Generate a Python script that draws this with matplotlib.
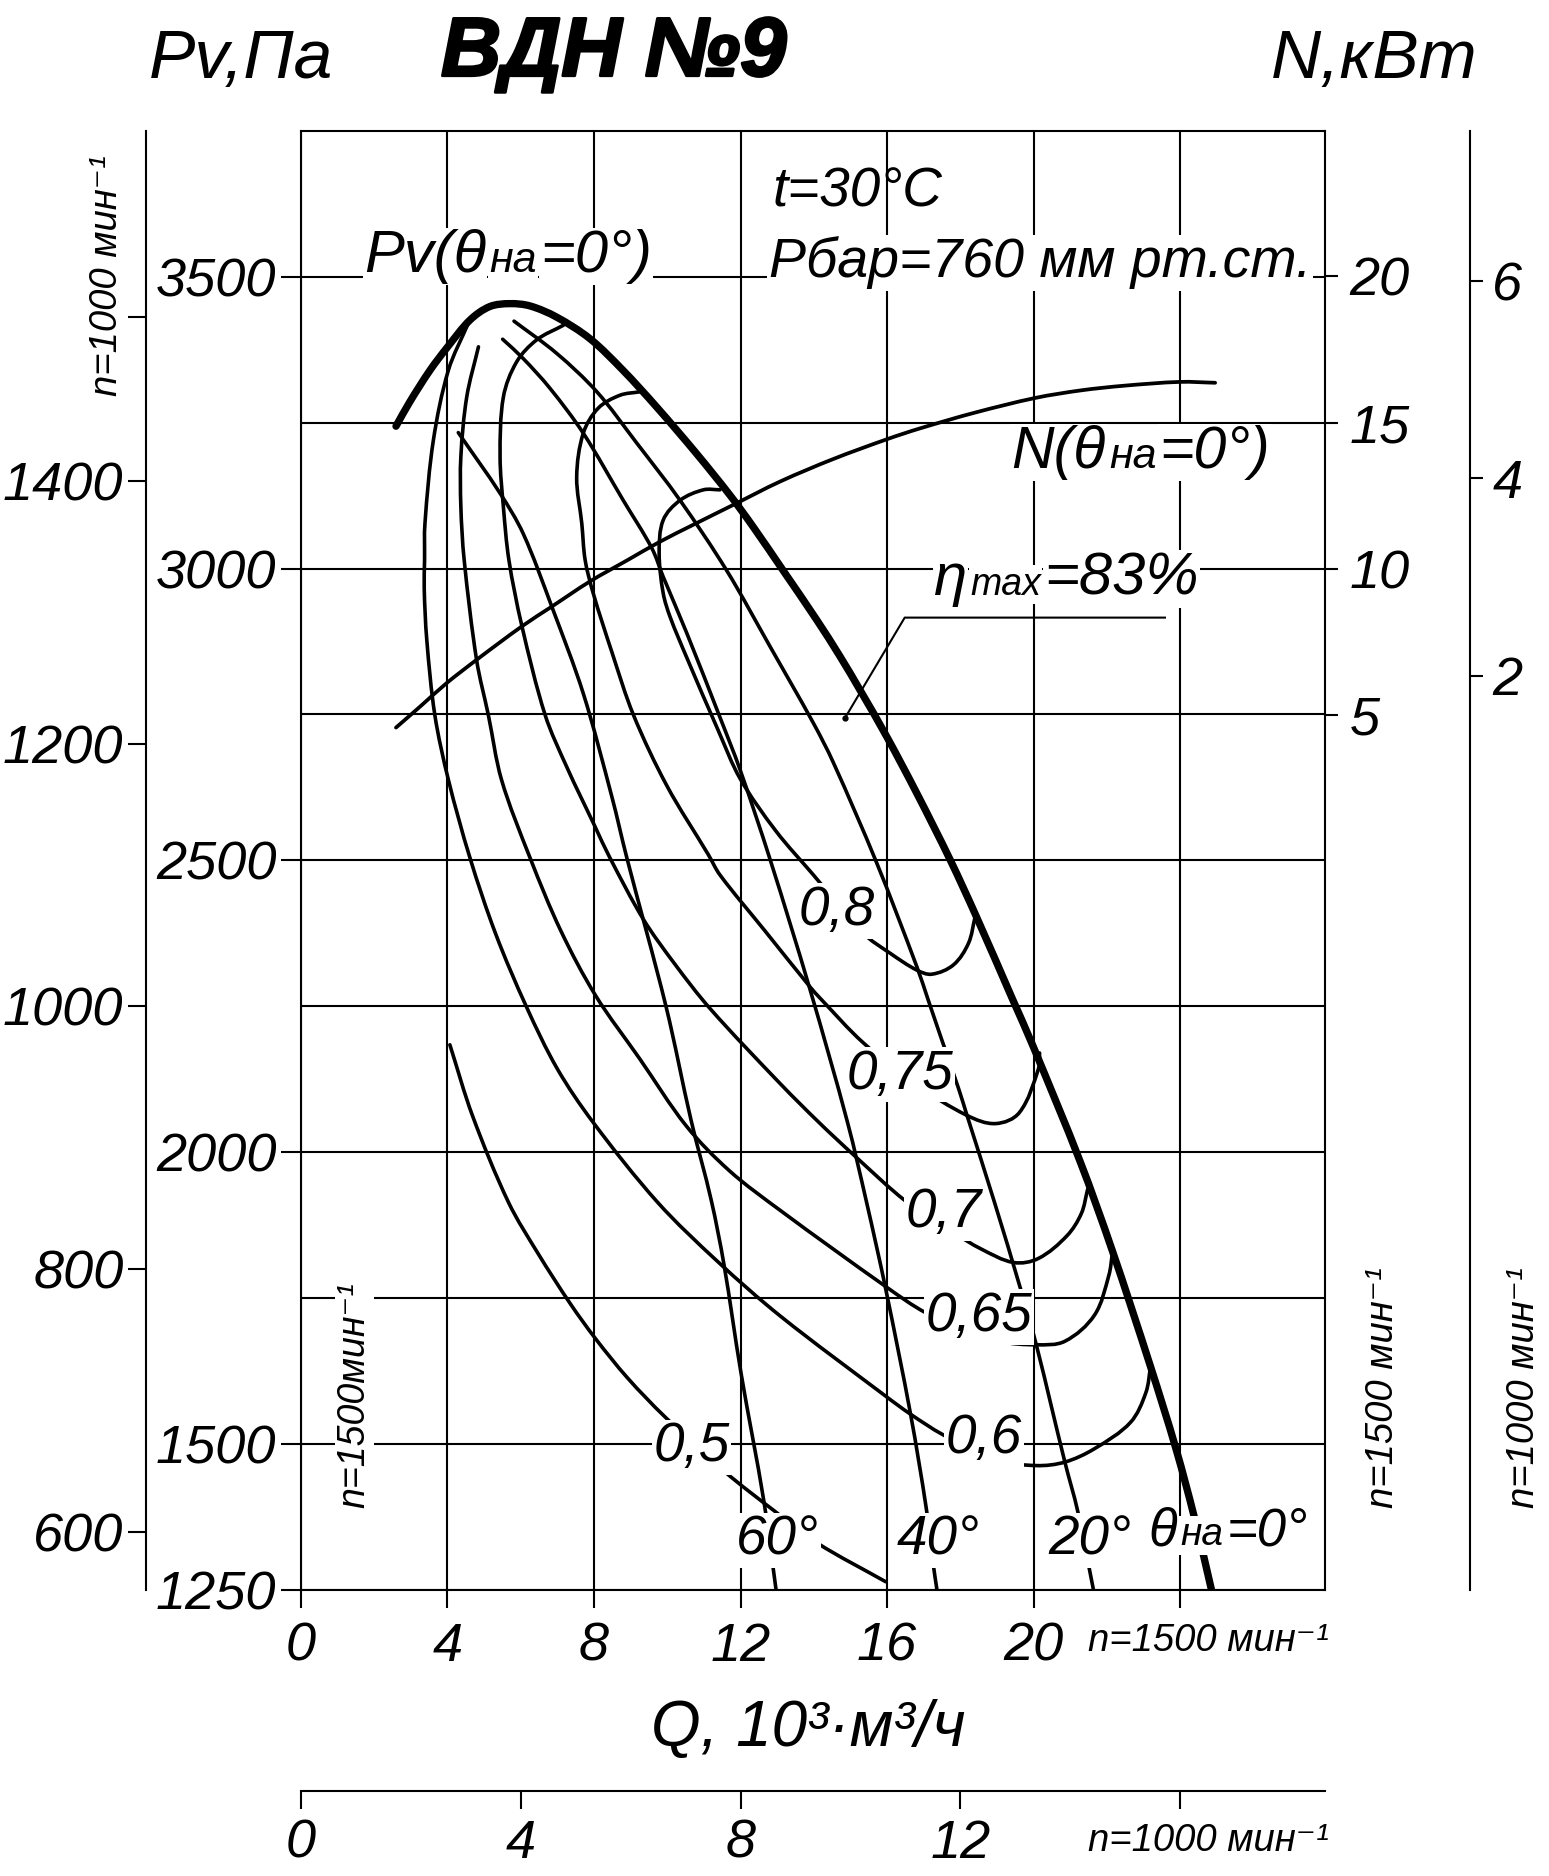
import matplotlib
matplotlib.use("Agg")
import matplotlib.pyplot as plt
import matplotlib.patheffects as pe
import numpy as np
from matplotlib.patches import PathPatch
from matplotlib.path import Path

plt.rcParams['font.family'] = ['Liberation Sans', 'DejaVu Sans']
plt.rcParams['font.style'] = 'italic'

# pressure tick values
pv_major = [1250, 1500, 2000, 2500, 3000, 3500]
pv_minor = [1750, 2250, 2750, 3250]
q_ticks = [0, 4, 8, 12, 16, 20, 24]
q_labels = ['0', '4', '8', '12', '16', '20', '']
q1000_ticks = [0, 4, 8, 12, 16]
q1000_labels = ['0', '4', '8', '12', '']
pv1000_ticks = [600, 800, 1000, 1200, 1400, 1525]
pv1000_labels = ['600', '800', '1000', '1200', '1400', '']
n_ticks = [5, 10, 15, 20]
n1000_ticks = [2, 4, 6]

# envelope, theta = 0
env_q = [2.60, 2.98, 3.53, 4.01, 4.62, 5.16, 5.71, 6.26, 6.98, 7.89, 8.79, 9.71, 10.80, 11.71, 12.34, 13.16, 14.08,
         14.72, 15.26, 15.99, 16.81, 17.72, 18.44, 19.43, 19.98, 21.26, 22.14, 23.18, 23.88, 24.38, 24.85]
env_pv = [3244, 3286, 3340, 3380, 3426, 3449, 3454, 3450, 3431, 3394, 3340, 3277, 3197, 3126, 3072, 2997, 2912,
          2849, 2792, 2712, 2615, 2501, 2403, 2261, 2182, 1985, 1832, 1634, 1492, 1375, 1250]

# power curve
power_q = [2.60, 3.26, 3.98, 4.80, 6.03, 6.85, 7.89, 8.93, 9.80, 10.71, 11.80, 13.08, 14.53, 16.0, 16.90, 18.4, 20.04, 21.29, 22.47, 23.99, 24.95]
power_n = [4.56, 5.28, 6.08, 6.88, 8.02, 8.70, 9.56, 10.30, 10.92, 11.50, 12.18, 12.98, 13.75, 14.43, 14.80, 15.34, 15.84, 16.10, 16.26, 16.39, 16.36]

# guide vane curves
t20_q = [5.82, 6.98, 8.08, 9.17, 10.35, 11.62, 12.81, 13.99, 14.53, 15.72, 16.81, 17.12, 17.5, 17.95, 18.18, 18.93, 19.64, 20.07, 20.85, 21.2, 21.63]
t20_pv = [3424, 3369, 3303, 3215, 3117, 2997, 2866, 2735, 2668, 2495, 2318, 2261, 2191, 2109, 2063, 1914, 1766, 1670, 1469, 1385, 1250]
t40_q = [5.51, 6.07, 6.80, 7.71, 8.80, 9.58, 9.89, 10.53, 11.44, 11.99, 12.81, 13.90, 14.92, 15.44, 15.96, 16.64, 17.07, 17.26, 17.36]
t40_pv = [3393, 3360, 3309, 3232, 3117, 3035, 2986, 2890, 2745, 2655, 2501, 2278, 2051, 1914, 1766, 1551, 1389, 1293, 1250]
t60_q = [4.30, 5.44, 6.07, 6.85, 7.71, 8.49, 8.90, 9.97, 10.65, 11.2, 11.55, 12.01, 12.64, 12.97]
t60_pv = [3233, 3129, 3060, 2935, 2786, 2609, 2504, 2249, 2055, 1918, 1807, 1623, 1401, 1250]

# efficiency curves
e50_q = [4.07, 4.69, 5.67, 6.48, 7.36, 8.05, 8.92, 9.93, 11.56, 12.93, 14.10, 15.96]
e50_pv = [2184, 2062, 1914, 1826, 1740, 1680, 1613, 1547, 1453, 1385, 1330, 1264]
e60_q = [4.57, 4.03, 3.62, 3.39, 3.38, 3.37, 3.44, 3.66, 4.03, 4.62, 5.32, 6.16, 7.0, 7.98, 9.74, 11.37, 13.09, 15.96, 16.64, 17.52, 18.93, 20.07, 20.85, 21.66, 22.64, 23.06, 23.19]
e60_pv = [3420, 3340, 3220, 3077, 3015, 2966, 2878, 2749, 2638, 2504, 2374, 2249, 2143, 2051, 1914, 1813, 1719, 1582, 1551, 1516, 1473, 1463, 1469, 1492, 1537, 1588, 1633]
e65_q = [4.85, 4.53, 4.37, 4.37, 4.46, 4.80, 5.12, 5.48, 6.26, 7.10, 8.05, 9.25, 10.52, 11.7, 13.09, 15.98, 17.05, 18.08, 19.06, 20.07, 20.85, 21.66, 22.05, 22.15]
e65_pv = [3380, 3294, 3192, 3106, 3015, 2843, 2749, 2638, 2504, 2379, 2268, 2160, 2045, 1968, 1900, 1769, 1725, 1699, 1676, 1670, 1676, 1721, 1789, 1828]
e70_q = [7.17, 6.44, 5.89, 5.53, 5.44, 5.53, 5.68, 6.03, 6.67, 7.26, 8.03, 8.44, 9.35, 10.2, 11.17, 13.09, 14.14, 15.11, 16.51, 17.79, 18.57, 19.45, 20.13, 20.91, 21.30, 21.47]
e70_pv = [3417, 3392, 3354, 3294, 3192, 3106, 3015, 2903, 2749, 2660, 2558, 2504, 2399, 2323, 2246, 2117, 2051, 1994, 1916, 1863, 1834, 1811, 1818, 1857, 1895, 1936]
e75_q = [9.26, 8.71, 8.12, 7.71, 7.53, 7.67, 7.76, 7.98, 8.49, 9.08, 9.99, 11.12, 11.44, 12.67, 13.90, 14.17, 15.34, 16.81, 18.18, 18.96, 19.61, 20.13, 20.16]
e75_pv = [3303, 3297, 3275, 3232, 3157, 3077, 3015, 2958, 2857, 2749, 2628, 2510, 2475, 2379, 2283, 2264, 2188, 2115, 2063, 2049, 2068, 2143, 2170]
e80_q = [11.44, 10.99, 10.35, 9.89, 9.78, 9.89, 10.08, 10.53, 11.39, 11.99, 12.97, 13.99, 15.35, 16.08, 16.81, 17.22, 17.81, 18.22, 18.40]
e80_pv = [3135, 3135, 3117, 3083, 3026, 2958, 2917, 2848, 2723, 2640, 2550, 2475, 2375, 2341, 2312, 2305, 2321, 2358, 2403]

# leader of the max efficiency note
leader_q = [14.85, 16.48, 23.58]
leader_pv = [2744, 2916, 2916]

W, H = 1297.1, 1571  # layout is worked out on this grid


def fx(x):
    return x / W


def fy(y):
    return 1 - y / H


def curve(a, xs, ys, lw):
    # bezier path through the read points, so the ink has no corners
    p = a.transData.transform(np.column_stack([xs, ys]))
    tang = np.gradient(p, axis=0)
    tang /= np.linalg.norm(tang, axis=1, keepdims=True)
    verts = [p[0]]
    for i in range(len(p) - 1):
        d = np.linalg.norm(p[i + 1] - p[i]) / 3
        verts += [p[i] + tang[i] * d, p[i + 1] - tang[i + 1] * d, p[i + 1]]
    codes = [Path.MOVETO] + [Path.CURVE4] * (len(verts) - 1)
    path = Path(a.transData.inverted().transform(np.array(verts)), codes)
    a.add_patch(PathPatch(path, fill=False, edgecolor='black', linewidth=lw, capstyle='round', joinstyle='round'))


fig = plt.figure(figsize=(15.49, 18.76), dpi=100)
ax = fig.add_axes([fx(251.8), fy(1331.4), fx(1109.3 - 251.8), (1331.4 - 110.1) / H])
ax.set_xlim(0, 27.94)
ax.set_ylim(1250, 3749)

for side in ax.spines:
    ax.spines[side].set_linewidth(1.5)
ax.set_axisbelow(True)
ax.set_xticks(q_ticks, q_labels)
ax.set_yticks(pv_major, [str(v) for v in pv_major])
ax.set_yticks(pv_minor, minor=True)
ax.grid(True, which='both', color='black', linewidth=1.5)
ax.tick_params(axis='both', which='major', width=1.5, labelsize=39)
ax.tick_params(axis='x', length=13, pad=10)
ax.tick_params(axis='y', length=14.4, pad=3)
ax.tick_params(axis='y', which='minor', length=0)
ax.yaxis.get_major_ticks()[-1].tick1line.set_visible(False)

for qs, ps in [(t20_q, t20_pv), (t40_q, t40_pv), (t60_q, t60_pv), (e50_q, e50_pv), (e60_q, e60_pv),
               (e65_q, e65_pv), (e70_q, e70_pv), (e75_q, e75_pv), (e80_q, e80_pv)]:
    curve(ax, qs, ps, 2.6)
curve(ax, env_q, env_pv, 5.3)
ax.plot(leader_q, leader_pv, color='black', linewidth=1.5)
ax.plot(leader_q[0], leader_pv[0], 'o', color='black', markersize=3.5)

ax2 = ax.twinx()
ax2.set_ylim(-24.95, 24.96)
ax2.patch.set_visible(False)
for side in ax2.spines:
    ax2.spines[side].set_visible(False)
curve(ax2, power_q, power_n, 2.7)
ax2.set_yticks(n_ticks, [str(v) for v in n_ticks])
ax2.tick_params(axis='y', length=9, width=1.5, labelsize=39, pad=9)

# scales for n=1000
sec_left = ax.secondary_yaxis(-0.1513, functions=(lambda p: p * 4 / 9, lambda p: p * 9 / 4))
sec_left.set_yticks(pv1000_ticks, pv1000_labels)
sec_left.tick_params(length=13, width=1.5, labelsize=39, pad=3)
sec_left.spines['left'].set_linewidth(1.5)

sec_right = ax2.secondary_yaxis(1.142, functions=(lambda n: 0.128 + 0.2957 * n, lambda n: (n - 0.128) / 0.2957))
sec_right.set_yticks(n1000_ticks, [str(v) for v in n1000_ticks])
sec_right.tick_params(axis='y', left=False, right=True, labelleft=False, labelright=True,
                      length=9, width=1.5, labelsize=39, pad=7)
for side in sec_right.spines:
    sec_right.spines[side].set_visible(False)
sec_right.spines['left'].set_visible(True)
sec_right.spines['left'].set_linewidth(1.5)

sec_bottom = ax.secondary_xaxis(-0.1378, functions=(lambda q: q * 2 / 3, lambda q: q * 1.5))
sec_bottom.set_xticks(q1000_ticks, q1000_labels)
sec_bottom.tick_params(length=13, width=1.5, labelsize=39, pad=7)
sec_bottom.spines['bottom'].set_linewidth(1.5)

mask = dict(facecolor='white', edgecolor='none', pad=1)


def label(x, y, s, size=39, masked=True, **kw):
    opts = dict(ha='center', va='center', fontsize=size)
    if masked:
        opts['bbox'] = mask
    opts.update(kw)
    return fig.text(fx(x), fy(y), s, **opts)


def runs(x, y, parts, masked=True):
    # pieces of one label at different sizes, set on one baseline
    renderer = fig.canvas.get_renderer()
    px = fx(x)
    for s, size in parts:
        t = fig.text(px, fy(y), s, fontsize=size, ha='left', va='baseline', bbox=mask if masked else None)
        px += t.get_window_extent(renderer).width / fig.bbox.width + 0.002


# headings
label(202, 50, 'Pv,Па', 50, False)
label(1151, 50, 'N,кВт', 50, False)
title = label(514, 45, 'ВДН №9', 60, False, family='Liberation Sans', fontweight='bold')
title.set_path_effects([pe.withStroke(linewidth=2, foreground='black')])
label(718, 161, 't=30°C', 39.5, False)
label(871, 220, 'Рбар=760 мм рт.ст.', 40)

runs(305, 228, [('Pv(θ', 43), ('на', 31), ('=0°)', 43)])
runs(847, 392, [('N(θ', 42.5), ('на', 31), ('=0°)', 42.5)])
runs(782, 498, [('η', 43), ('max', 27), ('=83%', 43)])
runs(962, 1294, [('θ', 38), ('на', 28), ('=0°', 38)])

for x, y, s in [(701, 763, '0,8'), (754, 900, '0,75'), (790, 1016, '0,7'), (820, 1103, '0,65'),
                (824, 1205, '0,6'), (579, 1212, '0,5'), (651, 1290, '60°'), (786, 1290, '40°'), (913, 1290, '20°')]:
    label(x, y, s, 39.5)

label(677, 1448, 'Q, 10³·м³/ч', 46, False)
label(1012, 1374, 'n=1500 мин⁻¹', 27.5, False)
label(1012, 1542, 'n=1000 мин⁻¹', 27.5, False)
label(90, 231, 'n=1000 мин⁻¹', 27.5, False, rotation=90)
label(297, 1168, 'n=1500мин⁻¹', 27, True, rotation=90)
label(1158, 1162, 'n=1500 мин⁻¹', 27.5, False, rotation=90)
label(1276, 1162, 'n=1000 мин⁻¹', 27.5, False, rotation=90)

fig.savefig('out.png', dpi=100)
